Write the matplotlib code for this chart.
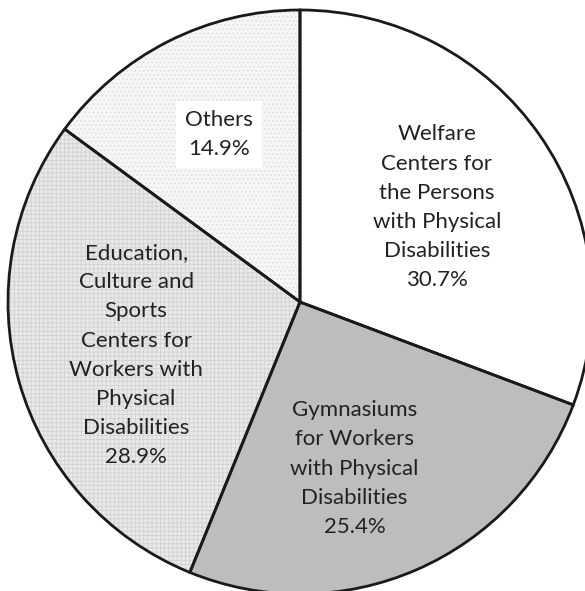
import numpy as np
import matplotlib
matplotlib.use("Agg")
import matplotlib.pyplot as plt

plt.rcParams['font.family'] = ['Lato', 'DejaVu Sans']
plt.rcParams['hatch.linewidth'] = 0.6

categories = [
    "Welfare\nCenters for\nthe Persons\nwith Physical\nDisabilities",
    "Gymnasiums\nfor Workers\nwith Physical\nDisabilities",
    "Education,\nCulture and\nSports\nCenters for\nWorkers with\nPhysical\nDisabilities",
    "Others",
]
shares = [30.7, 25.4, 28.9, 14.9]

face_colors = ['#ffffff', '#bdbdbd', '#e9e9e9', '#f6f6f6']
hatches = [None, None, '++++', '....']
hatch_colors = ['#ffffff', '#bdbdbd', '#d2d2d2', '#dedede']
label_radius = [0.57, 0.60, 0.59, 0.637]
label_shift_deg = [0.0, -5.5, 2.2, -1.0]

fig = plt.figure(figsize=(5.85, 5.91), dpi=100)
ax = fig.add_axes([0, 0, 1, 1])

# textured fills (hatch colour follows the edge colour)
fills, _ = ax.pie(shares, startangle=90, counterclock=False, radius=1.0,
                  colors=face_colors, wedgeprops=dict(linewidth=0))
for w, h, hc in zip(fills, hatches, hatch_colors):
    if h:
        w.set_hatch(h)
        w.set_edgecolor(hc)

# black outlines on top
outlines, _ = ax.pie(shares, startangle=90, counterclock=False, radius=1.0,
                     wedgeprops=dict(fill=False, edgecolor='#1a1a1a', linewidth=2.0))

for w, cat, val, r, dth in zip(outlines, categories, shares, label_radius, label_shift_deg):
    theta = np.deg2rad((w.theta1 + w.theta2) / 2 + dth)
    x, y = r * np.cos(theta), r * np.sin(theta)
    kw = {}
    if cat == "Others":
        kw['bbox'] = dict(boxstyle='square,pad=0.4', facecolor='white', edgecolor='none')
    ax.text(x, y, f"{cat}\n{val:.1f}%", ha='center', va='center', fontsize=16,
            linespacing=1.57, color='#222222', **kw)

R = 292.0
ax.set_xlim(-300 / R, 285 / R)
ax.set_ylim(-289 / R, 302 / R)
ax.set_aspect('equal')
ax.axis('off')

fig.savefig('out.png', dpi=100, facecolor='white')
